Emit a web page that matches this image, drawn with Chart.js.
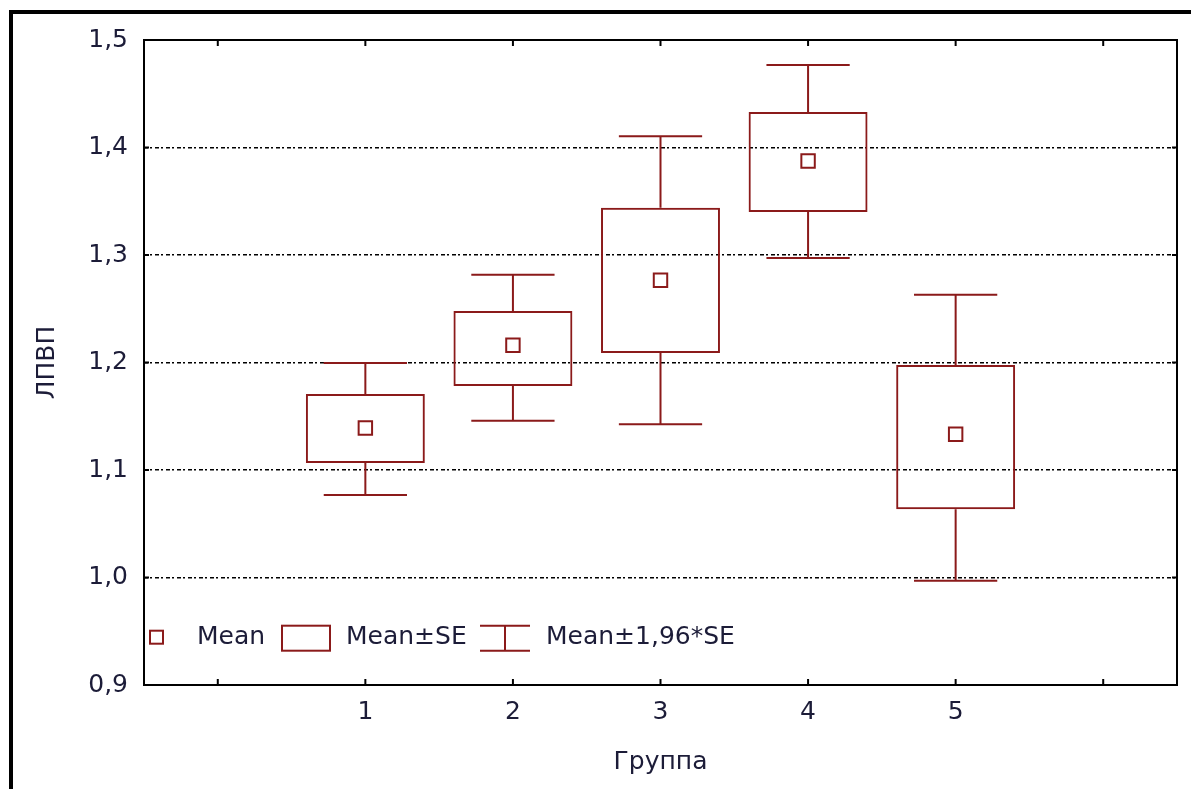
<!DOCTYPE html>
<html>
<head>
<meta charset="utf-8">
<script src="https://cdn.jsdelivr.net/npm/chart.js@4"></script>
<style>
  html, body { margin: 0; padding: 0; background: #fff; }
  #wrap { position: relative; width: 1191px; height: 789px; overflow: hidden; }
  #frame { position: absolute; left: 9px; top: 10px; width: 1300px; height: 900px;
           border-left: 4px solid #000; border-top: 4px solid #000; box-sizing: border-box; }
  canvas { position: absolute; left: 0; top: 0; }
</style>
</head>
<body>
<div id="wrap">
  <div id="frame"></div>
  <canvas id="grafico" width="1191" height="789"></canvas>
</div>
<script>
// Группы (пустые по краям - как в оригинале ось шире)
const grupos = ['', '1', '2', '3', '4', '5', ''];
// Среднее
const media = [null, 1.139, 1.216, 1.2765, 1.3874, 1.1332, null];
// Mean ± SE
const seBaixo = [null, 1.1065, 1.1781, 1.2088, 1.340, 1.0634, null];
const seAlto = [null, 1.1707, 1.2479, 1.344, 1.433, 1.1977, null];
// Mean ± 1,96*SE
const ciBaixo = [null, 1.0767, 1.1459, 1.1425, 1.2972, 0.997, null];
const ciAlto = [null, 1.1995, 1.2817, 1.4104, 1.4767, 1.2631, null];

const vermelho = '#8b1a1a';
const corTexto = '#1c1c38';
const fonte = '"DejaVu Sans", "Liberation Sans", Arial, sans-serif';
const tamFonte = 25;

// bigodes, moldura, tracinhos e legenda
const pluginExtra = {
    id: 'extra',
    afterDatasetsDraw(chart) {
        const ctx = chart.ctx;
        const y = chart.scales.y;
        const x = chart.scales.x;
        const area = chart.chartArea;
        const barras = chart.getDatasetMeta(0).data;

        ctx.save();
        ctx.strokeStyle = vermelho;
        ctx.lineWidth = 2;
        for (let i = 0; i < grupos.length; i++) {
            if (media[i] === null) continue;
            const cx = x.getPixelForValue(i);
            const meia = barras[i].width * 0.35;
            const yTop = y.getPixelForValue(ciAlto[i]);
            const yBot = y.getPixelForValue(ciBaixo[i]);
            const yBoxT = y.getPixelForValue(seAlto[i]);
            const yBoxB = y.getPixelForValue(seBaixo[i]);
            ctx.beginPath();
            ctx.moveTo(cx, yTop); ctx.lineTo(cx, yBoxT);
            ctx.moveTo(cx, yBoxB); ctx.lineTo(cx, yBot);
            ctx.moveTo(cx - meia, yTop); ctx.lineTo(cx + meia, yTop);
            ctx.moveTo(cx - meia, yBot); ctx.lineTo(cx + meia, yBot);
            ctx.stroke();
        }

        // moldura
        ctx.strokeStyle = '#000';
        ctx.lineWidth = 2;
        ctx.strokeRect(area.left, area.top, area.right - area.left, area.bottom - area.top);

        // tracinhos para dentro
        ctx.beginPath();
        for (let i = 0; i < grupos.length; i++) {
            const px = x.getPixelForValue(i);
            ctx.moveTo(px, area.bottom); ctx.lineTo(px, area.bottom - 6);
            ctx.moveTo(px, area.top); ctx.lineTo(px, area.top + 6);
        }
        y.ticks.forEach(t => {
            const py = y.getPixelForValue(t.value);
            ctx.moveTo(area.left, py); ctx.lineTo(area.left + 5, py);
            ctx.moveTo(area.right, py); ctx.lineTo(area.right - 5, py);
        });
        ctx.stroke();

        // legenda
        const ly = y.getPixelForValue(0.944);
        ctx.strokeStyle = vermelho;
        ctx.lineWidth = 2;
        ctx.strokeRect(area.left + 6, ly - 7, 13, 13);
        ctx.strokeRect(area.left + 138, ly - 12, 48, 25);
        ctx.beginPath();
        ctx.moveTo(area.left + 336, ly - 12); ctx.lineTo(area.left + 386, ly - 12);
        ctx.moveTo(area.left + 336, ly + 13); ctx.lineTo(area.left + 386, ly + 13);
        ctx.moveTo(area.left + 361, ly - 12); ctx.lineTo(area.left + 361, ly + 13);
        ctx.stroke();
        ctx.fillStyle = corTexto;
        ctx.font = tamFonte + 'px ' + fonte;
        ctx.textBaseline = 'middle';
        ctx.textAlign = 'left';
        ctx.fillText('Mean', area.left + 53, ly);
        ctx.fillText('Mean±SE', area.left + 202, ly);
        ctx.fillText('Mean±1,96*SE', area.left + 402, ly);
        ctx.restore();
    }
};

new Chart(document.getElementById('grafico'), {
    type: 'bar',
    data: {
        labels: grupos,
        datasets: [{
            label: 'Mean±SE',
            data: seBaixo.map((v, i) => v === null ? null : [v, seAlto[i]]),
            backgroundColor: 'rgba(0,0,0,0)',
            borderColor: vermelho,
            borderWidth: 2,
            borderSkipped: false,
            barPercentage: 0.806,
            categoryPercentage: 1,
            order: 2
        }, {
            type: 'line',
            label: 'Mean',
            data: media,
            showLine: false,
            pointStyle: 'rect',
            pointRadius: 9.5,
            pointBorderWidth: 2,
            pointBorderColor: vermelho,
            pointBackgroundColor: '#fff',
            order: 1
        }]
    },
    options: {
        responsive: false,
        animation: false,
        layout: { padding: { left: 0, top: 40, right: 14, bottom: 0 } },
        plugins: { legend: { display: false }, tooltip: { enabled: false } },
        scales: {
            x: {
                offset: true,
                grid: { display: false, drawTicks: false },
                border: { display: false },
                ticks: { color: corTexto, font: { size: tamFonte, family: fonte }, padding: 12 },
                title: { display: true, text: 'Группа', color: corTexto,
                         font: { size: tamFonte, family: fonte }, padding: { top: 0, bottom: 12 } },
                afterFit: s => { s.height = 104; }
            },
            y: {
                min: 0.9, max: 1.5,
                ticks: {
                    stepSize: 0.1,
                    color: corTexto,
                    font: { size: tamFonte, family: fonte },
                    padding: 16,
                    callback: v => v.toFixed(1).replace('.', ',')
                },
                grid: {
                    drawTicks: false,
                    lineWidth: 1.5,
                    color: c => (c.tick && (Math.abs(c.tick.value - 0.9) < 1e-6 || Math.abs(c.tick.value - 1.5) < 1e-6)) ? 'rgba(0,0,0,0)' : '#000'
                },
                border: { display: false, dash: [4, 2, 2, 3] },
                title: { display: true, text: 'ЛПВП', color: corTexto,
                         font: { size: tamFonte, family: fonte }, padding: { top: 32, bottom: 0 } },
                afterFit: s => { s.width = 144; }
            }
        }
    },
    plugins: [pluginExtra]
});
</script>
</body>
</html>
